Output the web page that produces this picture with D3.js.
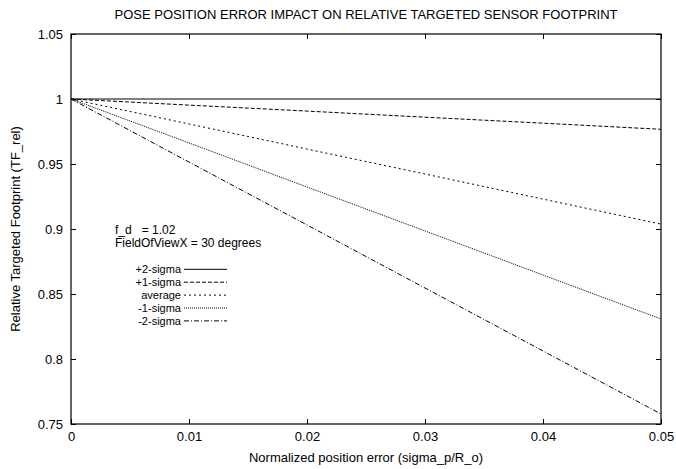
<!DOCTYPE html>
<html>
<head>
<meta charset="utf-8">
<script src="https://cdn.jsdelivr.net/npm/d3@7"></script>
<style>
  body { margin: 0; background: #fff; }
  text { font-family: "Liberation Sans", Arial, sans-serif; fill: #000; }
</style>
</head>
<body>
<svg id="chart"></svg>
<script>
// x values (normalized position error)
let xValues = [0, 0.01, 0.02, 0.03, 0.04, 0.05];

// series values
let seriesNames = ["+2-sigma", "+1-sigma", "average", "-1-sigma", "-2-sigma"];
let plus2 = [1, 1, 1, 1, 1, 1];
let plus1 = [1, 0.9953, 0.9907, 0.986, 0.9814, 0.9767];
let average = [1, 0.9808, 0.9615, 0.9423, 0.923, 0.9038];
let minus1 = [1, 0.9662, 0.9323, 0.8985, 0.8646, 0.8308];
let minus2 = [1, 0.9515, 0.9031, 0.8546, 0.8062, 0.7577];

let xTicks = [0, 0.01, 0.02, 0.03, 0.04, 0.05];
let yTicks = [0.75, 0.8, 0.85, 0.9, 0.95, 1, 1.05];

let dashes = ["none", "4,2", "2,3", "1,1", "5,2,1,2"];

let margin = { top: 34, right: 15, bottom: 45, left: 71 };
let width = 676 - margin.left - margin.right,
  height = 469 - margin.top - margin.bottom;

let fontSize = "13px";

let x = d3.scaleLinear().domain([0, 0.05]).range([0, width]);
let y = d3.scaleLinear().domain([0.75, 1.05]).range([height, 0]);

let svg = d3
  .select("#chart")
  .attr("width", 676)
  .attr("height", 469)
  .append("g")
  .attr("transform", "translate(" + margin.left + "," + margin.top + ")");

// Axes with inward ticks (bottom/left labelled, top/right mirrored)
function styleAxis(g) {
  g.select(".domain").remove();
  g.selectAll("line").attr("stroke", "#000");
  g.selectAll("text").style("font-size", fontSize).style("font-family", "Liberation Sans, Arial, sans-serif");
}

svg
  .append("g")
  .attr("transform", `translate(0,${height})`)
  .call(d3.axisBottom(x).tickValues(xTicks).tickSizeInner(-5).tickSizeOuter(0).tickPadding(8).tickFormat(d3.format("")))
  .call(styleAxis);

svg
  .append("g")
  .call(d3.axisTop(x).tickValues(xTicks).tickSizeInner(-5).tickSizeOuter(0).tickFormat(""))
  .call(styleAxis);

svg
  .append("g")
  .call(d3.axisLeft(y).tickValues(yTicks).tickSizeInner(-5).tickSizeOuter(0).tickPadding(8).tickFormat(d3.format("")))
  .call(styleAxis);

svg
  .append("g")
  .attr("transform", `translate(${width},0)`)
  .call(d3.axisRight(y).tickValues(yTicks).tickSizeInner(-5).tickSizeOuter(0).tickFormat(""))
  .call(styleAxis);

// frame
svg
  .append("rect")
  .attr("width", width)
  .attr("height", height)
  .attr("fill", "none")
  .attr("stroke", "#000")
  .attr("stroke-width", 1.2);

// Lines
let allSeries = [plus2, plus1, average, minus1, minus2];
let line = d3
  .line()
  .x((d, i) => x(xValues[i]))
  .y((d) => y(d));

svg
  .selectAll(".series")
  .data(allSeries)
  .enter()
  .append("path")
  .attr("class", "series")
  .attr("d", line)
  .attr("fill", "none")
  .attr("stroke", "#000")
  .attr("stroke-width", 1)
  .attr("stroke-dasharray", (d, i) => dashes[i]);

// Chart Title
svg
  .append("text")
  .attr("x", width / 2)
  .attr("y", -15)
  .attr("text-anchor", "middle")
  .style("font-size", fontSize)
  .text("POSE POSITION ERROR IMPACT ON RELATIVE TARGETED SENSOR FOOTPRINT");

// X-Axis Label
svg
  .append("text")
  .attr("x", width / 2)
  .attr("y", height + 38)
  .attr("text-anchor", "middle")
  .style("font-size", fontSize)
  .text("Normalized position error (sigma_p/R_o)");

// Y-Axis Label
svg
  .append("text")
  .attr("transform", "rotate(-90)")
  .attr("x", -height / 2)
  .attr("y", -51)
  .attr("text-anchor", "middle")
  .style("font-size", fontSize)
  .text("Relative Targeted Footprint (TF_rel)");

// Annotations
svg
  .append("text")
  .attr("x", 44)
  .attr("y", 200)
  .style("font-size", "12px")
  .style("white-space", "pre")
  .attr("xml:space", "preserve")
  .text("f_d   = 1.02");

svg
  .append("text")
  .attr("x", 44)
  .attr("y", 213)
  .style("font-size", "12px")
  .text("FieldOfViewX = 30 degrees");

// Legend
let legend = svg
  .append("g")
  .selectAll("g")
  .data(seriesNames)
  .enter()
  .append("g")
  .attr("transform", (d, i) => `translate(0, ${235.3 + i * 12.9})`);

legend
  .append("text")
  .attr("x", 110)
  .attr("y", 0)
  .attr("dy", ".35em")
  .attr("text-anchor", "end")
  .style("font-size", "11px")
  .text((d) => d);

legend
  .append("line")
  .attr("x1", 113)
  .attr("x2", 156)
  .attr("y1", 0)
  .attr("y2", 0)
  .attr("stroke", "#000")
  .attr("stroke-width", 1)
  .attr("stroke-dasharray", (d, i) => dashes[i]);
</script>
</body>
</html>
